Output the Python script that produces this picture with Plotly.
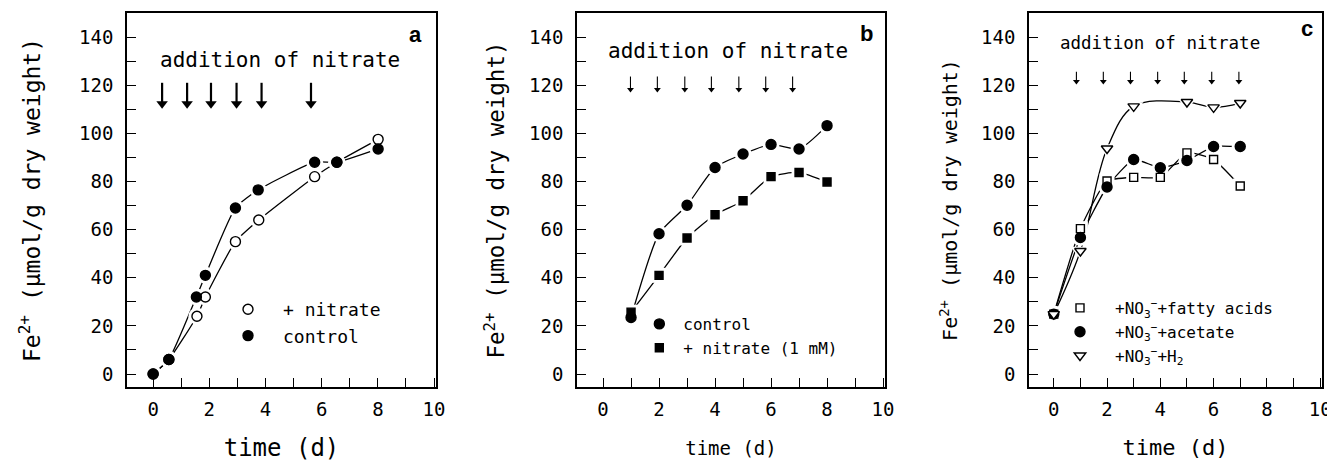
import plotly.graph_objects as go

# ---------------- data ----------------
# panel a
a_time_nitrate = [0, 0.56, 1.56, 1.86, 2.93, 3.76, 5.75, 6.54, 8.01]
a_fe_nitrate = [0, 6, 24, 32, 55, 64, 82, 88, 97.5]
a_time_control = [0, 0.56, 1.54, 1.86, 2.93, 3.74, 5.75, 6.54, 8.01]
a_fe_control = [0, 6, 32, 41, 69, 76.5, 88, 88, 93.5]
a_additions = [0.32, 1.21, 2.06, 2.97, 3.86, 5.62]

# panel b
b_time = [1, 2, 3, 4, 5, 6, 7, 8]
b_control = [23.5, 58.3, 70.1, 85.8, 91.4, 95.4, 93.5, 103.2]
b_nitrate = [25.7, 41, 56.5, 66.2, 72, 82, 83.7, 79.8]
b_additions = [0.98, 1.94, 2.92, 3.87, 4.85, 5.81, 6.77]

# panel c
c_time = [0, 1, 2, 3, 4, 5, 6, 7]
c_fatty = [24.9, 60.4, 80.2, 81.7, 81.7, 91.9, 89.1, 78.1]
c_acetate = [24.9, 56.7, 77.7, 89.1, 85.7, 88.7, 94.5, 94.5]
c_h2_time = [0, 1, 2, 3, 5, 6, 7]
c_h2 = [24.9, 51.1, 93.7, 111.2, 113, 110.8, 112.6]
c_additions = [0.85, 1.86, 2.88, 3.9, 4.9, 5.93, 6.95]

x_ticks = [0, 2, 4, 6, 8, 10]
y_ticks = [0, 20, 40, 60, 80, 100, 120, 140]

MONO = "DejaVu Sans Mono"
BLACK = "black"

fig = go.Figure()


def add_series(x, y, xa, ya, symbol, size, filled, smooth, legend, name):
    fig.add_trace(go.Scatter(x=x, y=y, xaxis=xa, yaxis=ya, mode="lines",
                             line=dict(color=BLACK, width=1.3, shape="spline", smoothing=smooth),
                             showlegend=False, hoverinfo="skip"))
    return dict(x=x, y=y, xa=xa, ya=ya, symbol=symbol, size=size, filled=filled,
                legend=legend, name=name)


def add_markers(series_list):
    # white halos leave small gaps in the lines around the markers
    for s in series_list:
        fig.add_trace(go.Scatter(x=s["x"], y=s["y"], xaxis=s["xa"], yaxis=s["ya"], mode="markers",
                                 marker=dict(symbol=s["symbol"], size=s["size"] + 7, color="white",
                                             line=dict(width=0)),
                                 showlegend=False, hoverinfo="skip"))
    for s in series_list:
        fc = BLACK if s["filled"] else "white"
        fig.add_trace(go.Scatter(x=s["x"], y=s["y"], xaxis=s["xa"], yaxis=s["ya"], mode="markers",
                                 marker=dict(symbol=s["symbol"], size=s["size"], color=fc,
                                             line=dict(color=BLACK, width=1.4)),
                                 name=s["name"], legend=s["legend"], showlegend=True))


def add_arrows(times, xa, ya, top, head, width, head_size):
    xs, ys = [], []
    for t in times:
        xs += [t, t, None]
        ys += [top, head, None]
    fig.add_trace(go.Scatter(x=xs, y=ys, xaxis=xa, yaxis=ya, mode="lines",
                             line=dict(color=BLACK, width=width),
                             showlegend=False, hoverinfo="skip"))
    fig.add_trace(go.Scatter(x=times, y=[head] * len(times), xaxis=xa, yaxis=ya, mode="markers",
                             marker=dict(symbol="triangle-down", size=head_size, color=BLACK,
                                         line=dict(width=0)),
                             showlegend=False, hoverinfo="skip"))


# panel a
sa = [add_series(a_time_nitrate, a_fe_nitrate, "x", "y", "circle", 10, False, 0.5, "legend", "+ nitrate"),
      add_series(a_time_control, a_fe_control, "x", "y", "circle", 10, True, 0.5, "legend", "control")]
add_markers(sa)
add_arrows(a_additions, "x", "y", 121, 112.3, 2.2, 10)

# panel b
sb = [add_series(b_time, b_control, "x2", "y2", "circle", 10, True, 0.6, "legend2", "control"),
      add_series(b_time, b_nitrate, "x2", "y2", "square", 8, True, 0.6, "legend2", "+ nitrate (1 mM)")]
add_markers(sb)
add_arrows(b_additions, "x2", "y2", 123.6, 118.2, 1.1, 6)

# panel c
sc = [add_series(c_time, c_fatty, "x3", "y3", "square", 8, False, 0.5, "legend3",
                 "+NO<sub>3</sub><sup>−</sup>+fatty acids"),
      add_series(c_time, c_acetate, "x3", "y3", "circle", 10, True, 0.5, "legend3",
                 "+NO<sub>3</sub><sup>−</sup>+acetate"),
      add_series(c_h2_time, c_h2, "x3", "y3", "triangle-down", 10, False, 1.0, "legend3",
                 "+NO<sub>3</sub><sup>−</sup>+H<sub>2</sub>")]
add_markers(sc)
add_arrows(c_additions, "x3", "y3", 125.6, 121.5, 1.1, 6)

# the page body has an 8px margin: the figure starts 8px from the window's corner
OFF = 8
W, H = 1335 - OFF, 462 - OFF
MT = 13 - OFF
MB = H - (387 - OFF)
ML, MR = 0, 0


def dom(a, b):
    return [(a - OFF) / W, (b - OFF) / W]


domains = [dom(127, 436), dom(577, 885), dom(1029, 1322)]


def xaxis(d, anchor, title_size, standoff):
    return dict(domain=d, anchor=anchor, range=[-0.93, 10.07],
                tickvals=x_ticks, ticks="inside", ticklen=9, tickwidth=1.2, tickcolor=BLACK,
                showline=True, linecolor=BLACK, linewidth=1.6, mirror=True,
                showgrid=False, zeroline=False, ticklabelstandoff=4,
                tickfont=dict(family=MONO, size=19, color=BLACK),
                minor=dict(dtick=1, tick0=0, ticks="inside", ticklen=9, tickwidth=1.2,
                           tickcolor=BLACK, showgrid=False),
                title=dict(text="time (d)", font=dict(family=MONO, size=title_size, color=BLACK),
                           standoff=standoff),
                automargin=False)


def yaxis(anchor, title_size, standoff):
    return dict(domain=[0, 1], anchor=anchor, range=[-5.4, 150],
                tickvals=y_ticks, ticks="inside", ticklen=9, tickwidth=1.2, tickcolor=BLACK,
                showline=True, linecolor=BLACK, linewidth=1.6, mirror=True,
                showgrid=False, zeroline=False, ticklabelstandoff=8,
                tickfont=dict(family=MONO, size=19, color=BLACK),
                minor=dict(dtick=10, tick0=0, ticks="inside", ticklen=9, tickwidth=1.2,
                           tickcolor=BLACK, showgrid=False),
                title=dict(text="Fe<sup>2+</sup> (μmol/g dry weight)",
                           font=dict(family=MONO, size=title_size, color=BLACK), standoff=standoff),
                automargin=False)


annotations = []


def add_text(x, y, xref, yref, text, size, family=MONO, bold=False):
    annotations.append(dict(x=x, y=y, xref=xref, yref=yref,
                            text=("<b>%s</b>" % text) if bold else text,
                            showarrow=False, font=dict(family=family, size=size, color=BLACK)))


add_text(4.5, 130.5, "x", "y", "addition of nitrate", 21)
add_text(4.46, 134.2, "x2", "y2", "addition of nitrate", 21)
add_text(3.97, 137.4, "x3", "y3", "addition of nitrate", 17.5)
add_text(9.35, 141, "x", "y", "a", 22, "Liberation Sans", True)
add_text(9.4, 141.4, "x2", "y2", "b", 22, "Liberation Sans", True)
add_text(9.5, 143.6, "x3", "y3", "c", 22, "Liberation Sans", True)


def py(p):
    # page pixel row -> paper y
    return (H - MB - (p - OFF)) / (H - MT - MB)


def leg(xpx, ypx, size, width):
    return dict(x=(xpx - OFF) / W, y=py(ypx), xanchor="left", yanchor="top",
                bgcolor="rgba(0,0,0,0)",
                font=dict(family=MONO, size=size, color=BLACK), itemwidth=width,
                traceorder="normal", tracegroupgap=0)


fig.update_layout(
    width=W, height=H, margin=dict(l=ML, r=MR, t=MT, b=MB, autoexpand=False),
    paper_bgcolor="white", plot_bgcolor="white",
    xaxis=xaxis(domains[0], "y", 24, 21), yaxis=yaxis("x", 23, 32),
    xaxis2=xaxis(domains[1], "y2", 19, 23), yaxis2=yaxis("x2", 22.5, 18),
    xaxis3=xaxis(domains[2], "y3", 22, 21), yaxis3=yaxis("x3", 20, 18),
    legend=leg(213, 291, 18, 60),
    legend2=leg(440 + 658 / 3 - 24, 307, 16, 38),
    legend3=leg(1045, 291, 16, 60),
    annotations=annotations,
)

fig.write_html("out.html", config={"displayModeBar": False})
